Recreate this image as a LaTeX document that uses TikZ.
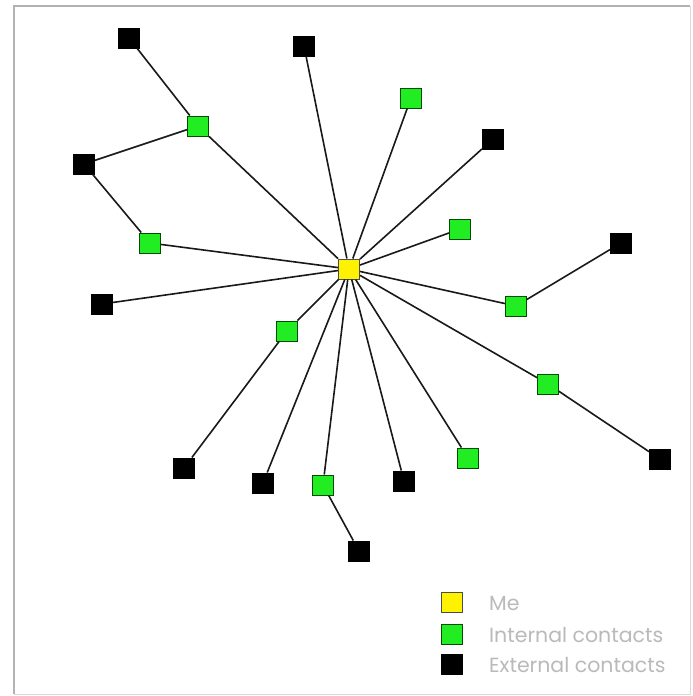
\documentclass[tikz,border=0pt]{standalone}
\usepackage{fontspec}
\setmainfont{Poppins}
\definecolor{contactgreen}{RGB}{34,236,34}
\begin{document}
\begin{tikzpicture}[x=1pt,y=-1pt,
  box/.style={minimum width=21pt,minimum height=20pt,inner sep=0pt,draw,line width=1pt},
  me/.style={box,fill=yellow,draw=black!70},
  internal/.style={box,fill=contactgreen,draw=green!30!black},
  external/.style={box,fill=black,draw=black},
  link/.style={line width=1.6pt,black!90},
  legendtext/.style={anchor=west,inner sep=0pt,text=black!27,font=\fontsize{20.5}{20.5}\selectfont}]
\useasboundingbox (0,0) rectangle (693,696);
\fill[white] (0,0) rectangle (693,696);
% frame
\draw[black!15,line width=1pt] (14,6) rectangle (690,694);
\draw[black!30,line width=2.5pt] (14,694) -- (14,6) -- (690,6);

% nodes
\node[external] (e1) at (129,38) {};
\node[external] (e2) at (304,46) {};
\node[external] (e3) at (84,164) {};
\node[external] (e4) at (493,139) {};
\node[external] (e5) at (621,243) {};
\node[external] (e6) at (102,304) {};
\node[external] (e7) at (184,468) {};
\node[external] (e8) at (263,483) {};
\node[external] (e9) at (404,481) {};
\node[external] (e10) at (359,551) {};
\node[external] (e11) at (660,459) {};

\node[internal] (i1) at (198,126) {};
\node[internal] (i2) at (411,98) {};
\node[internal] (i3) at (460,229) {};
\node[internal] (i4) at (150,243) {};
\node[internal] (i5) at (516,306) {};
\node[internal] (i6) at (287,331) {};
\node[internal] (i7) at (548,384) {};
\node[internal] (i8) at (468,458) {};
\node[internal] (i9) at (323,485) {};

\node[me] (me) at (349,269) {};

% links from the centre and onward
\foreach \n in {e2,i2,e4,i3,i5,i7,i8,e9,i9,e8,i6,e6,i4,i1}
  \draw[link] (me) -- (\n);
\draw[link] (i5) -- (e5);
\draw[link] (i7) -- (e11);
\draw[link] (i9) -- (e10);
\draw[link] (i6) -- (e7);
\draw[link] (i4) -- (e3);
\draw[link] (i1) -- (e1);
\draw[link] (i1) -- (e3);

% legend
\node[me] (lme) at (452,602) {};
\node[internal] (lint) at (452,634) {};
\node[external] (lext) at (452,664) {};
\node[legendtext] (tme) at (489,603) {Me};
\node[legendtext] (tint) at (489,635) {Internal contacts};
\node[legendtext] (text) at (489,665) {External contacts};
\end{tikzpicture}
\end{document}
